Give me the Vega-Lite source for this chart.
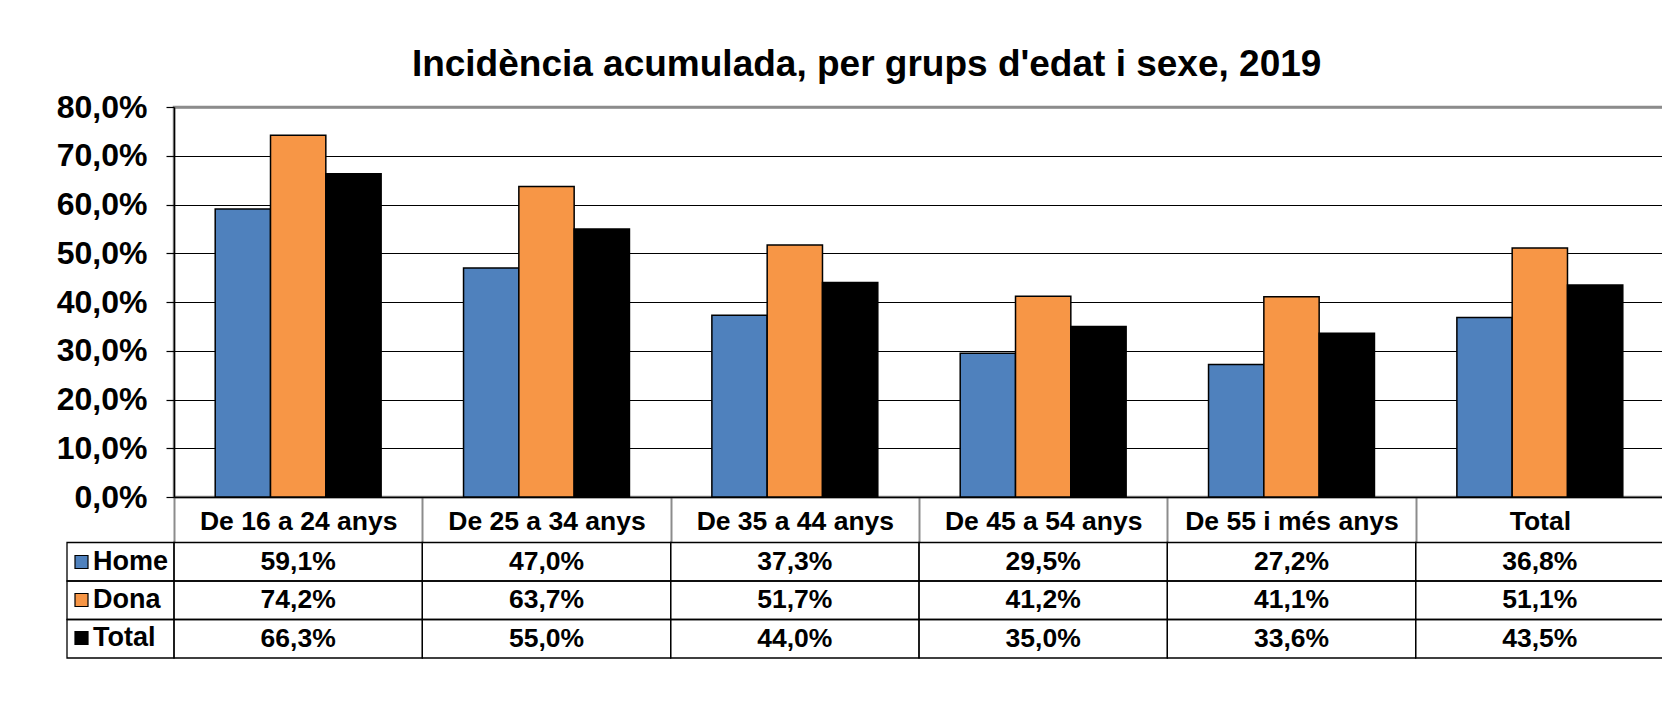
{
  "$schema": "https://vega.github.io/schema/vega-lite/v6.json",
  "padding": {"left": 55, "top": 45, "right": 0, "bottom": 0},
  "background": "#ffffff",
  "title": {"text": "Incidència acumulada, per grups d'edat i sexe, 2019", "font": "Liberation Sans", "fontSize": 37, "fontWeight": "bold", "color": "#000000", "anchor": "middle", "offset": 6, "dx": 6},
  "config": {
    "locale": {"number": {"decimal": ",", "thousands": ".", "grouping": [3], "currency": ["", " €"]}},
    "view": {"stroke": null},
    "font": "Liberation Sans"
  },
  "datasets": {
    "inc": [
      {"cat": "De 16 a 24 anys", "serie": "Home", "v": 0.591},
      {"cat": "De 16 a 24 anys", "serie": "Dona", "v": 0.742},
      {"cat": "De 16 a 24 anys", "serie": "Total", "v": 0.663},
      {"cat": "De 25 a 34 anys", "serie": "Home", "v": 0.470},
      {"cat": "De 25 a 34 anys", "serie": "Dona", "v": 0.637},
      {"cat": "De 25 a 34 anys", "serie": "Total", "v": 0.550},
      {"cat": "De 35 a 44 anys", "serie": "Home", "v": 0.373},
      {"cat": "De 35 a 44 anys", "serie": "Dona", "v": 0.517},
      {"cat": "De 35 a 44 anys", "serie": "Total", "v": 0.440},
      {"cat": "De 45 a 54 anys", "serie": "Home", "v": 0.295},
      {"cat": "De 45 a 54 anys", "serie": "Dona", "v": 0.412},
      {"cat": "De 45 a 54 anys", "serie": "Total", "v": 0.350},
      {"cat": "De 55 i més anys", "serie": "Home", "v": 0.272},
      {"cat": "De 55 i més anys", "serie": "Dona", "v": 0.411},
      {"cat": "De 55 i més anys", "serie": "Total", "v": 0.336},
      {"cat": "Total", "serie": "Home", "v": 0.368},
      {"cat": "Total", "serie": "Dona", "v": 0.511},
      {"cat": "Total", "serie": "Total", "v": 0.435}
    ],
    "rows": [{"serie": "Home"}, {"serie": "Dona"}, {"serie": "Total"}]
  },
  "columns": 2,
  "spacing": {"row": 45.5, "column": 0},
  "bounds": "flush",
  "concat": [
    {
      "width": 107, "height": 390,
      "data": {"values": [{}]},
      "mark": {"type": "text", "text": ""}
    },
    {
      "width": 1490, "height": 390,
      "data": {"name": "inc"},
      "view": {"stroke": "#8c8c8c", "strokeWidth": 2.5},
      "mark": {"type": "bar", "stroke": "#000000", "strokeWidth": 1.5},
      "encoding": {
        "x": {
          "field": "cat", "type": "nominal", "sort": null,
          "scale": {"paddingInner": 0, "paddingOuter": 0},
          "axis": {
            "title": null, "labelAngle": 0, "domain": true, "domainColor": "#000000", "domainWidth": 1.5,
            "ticks": true, "tickBand": "extent", "tickSize": 45.5, "tickColor": "#8c8c8c", "tickWidth": 2,
            "labelFontSize": 26.5, "labelFontWeight": "bold", "labelColor": "#000000", "labelLimit": 400,
            "labelBaseline": "alphabetic", "labelPadding": -13, "grid": false
          }
        },
        "xOffset": {
          "field": "serie", "type": "nominal", "sort": ["Home", "Dona", "Total"],
          "scale": {"paddingInner": 0, "paddingOuter": 0.745}
        },
        "y": {
          "field": "v", "type": "quantitative",
          "scale": {"domain": [0, 0.8], "nice": false},
          "axis": {
            "title": null, "values": [0, 0.1, 0.2, 0.3, 0.4, 0.5, 0.6, 0.7, 0.8], "format": ".1%",
            "labelFontSize": 32, "labelFontWeight": "bold", "labelColor": "#000000", "labelPadding": 19,
            "tickSize": 8, "tickColor": "#000000", "tickWidth": 1.2,
            "domainColor": "#000000", "domainWidth": 1.5,
            "grid": true,
            "gridColor": {"condition": {"test": "datum.value >= 0.79", "value": "#8c8c8c"}, "value": "#000000"},
            "gridWidth": {"condition": {"test": "datum.value >= 0.79", "value": 2.5}, "value": 1.2}
          }
        },
        "color": {
          "field": "serie", "type": "nominal",
          "scale": {"domain": ["Home", "Dona", "Total"], "range": ["#4F81BD", "#F79646", "#000000"]},
          "legend": {
            "title": null, "orient": "none", "legendX": 1, "legendY": 441.5, "padding": 0,
            "symbolType": "square", "symbolSize": 169, "symbolStrokeColor": "#000000", "symbolStrokeWidth": 1.2,
            "labelFontSize": 27, "labelFontWeight": "bold", "labelColor": "#000000", "labelOffset": -2,
            "rowPadding": 10
          }
        }
      }
    },
    {
      "width": 107, "height": 115.5,
      "data": {"name": "rows"},
      "mark": {"type": "rect", "fill": "transparent", "stroke": "#000000", "strokeWidth": 1.3},
      "encoding": {
        "y": {"field": "serie", "type": "nominal", "sort": ["Home", "Dona", "Total"], "scale": {"paddingInner": 0, "paddingOuter": 0}, "axis": null}
      }
    },
    {
      "width": 1490, "height": 115.5,
      "data": {"name": "inc"},
      "encoding": {
        "x": {"field": "cat", "type": "nominal", "sort": null, "scale": {"paddingInner": 0, "paddingOuter": 0}, "axis": null},
        "y": {"field": "serie", "type": "nominal", "sort": ["Home", "Dona", "Total"], "scale": {"paddingInner": 0, "paddingOuter": 0}, "axis": null}
      },
      "layer": [
        {"mark": {"type": "rect", "fill": "transparent", "stroke": "#000000", "strokeWidth": 1.3}},
        {"mark": {"type": "text", "fontSize": 26.5, "fontWeight": "bold", "color": "#000000", "baseline": "middle"},
         "encoding": {"text": {"field": "v", "type": "quantitative", "format": ".1%"}}}
      ]
    }
  ]
}
